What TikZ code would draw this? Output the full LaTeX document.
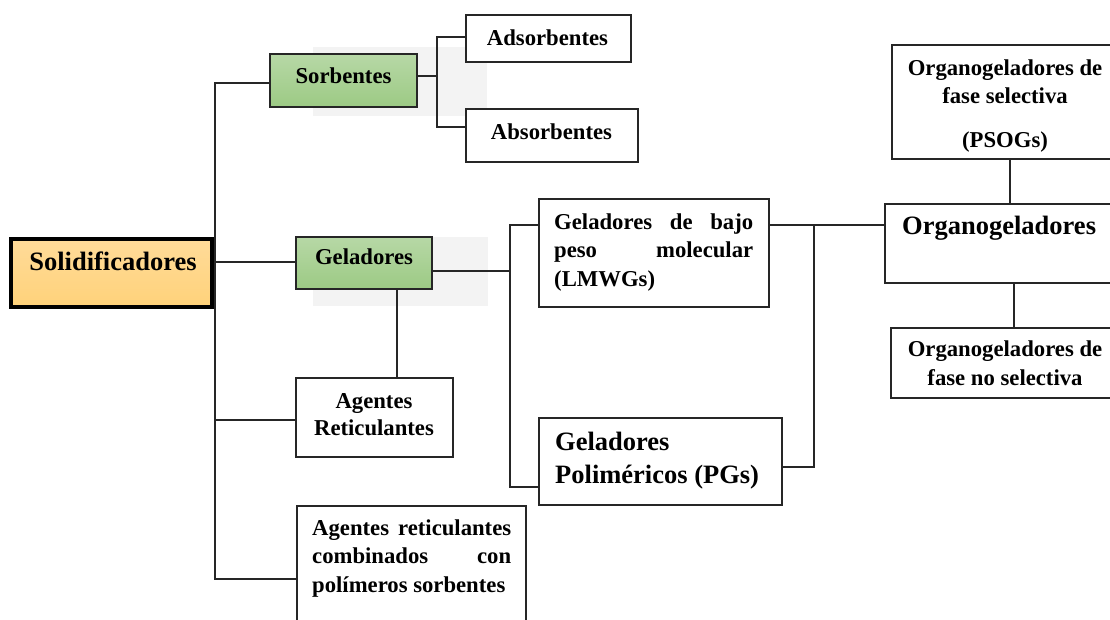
\documentclass[tikz,border=0pt]{standalone}
\usepackage{fontspec}
\setmainfont{Liberation Serif}
\usetikzlibrary{fit,calc}
\definecolor{gtop}{RGB}{183,216,166}
\definecolor{gbot}{RGB}{156,202,132}
\definecolor{otop}{RGB}{255,219,153}
\definecolor{obot}{RGB}{255,210,122}
\definecolor{ghostfill}{RGB}{243,243,243}
\tikzset{
  box/.style={draw=black!85, line width=2.4pt, fill=white, inner sep=0pt},
  greenbox/.style={box, top color=gtop, bottom color=gbot},
  rootbox/.style={draw=black, line width=4.5pt, top color=otop, bottom color=obot, inner sep=0pt},
  conn/.style={draw=black!85, line width=2.4pt},
  txt/.style={inner sep=0pt, anchor=base, font=\bfseries\fontsize{22.7pt}{28.5pt}\selectfont},
  bigtxt/.style={inner sep=0pt, anchor=base, font=\bfseries\fontsize{26.5pt}{33pt}\selectfont},
}
\begin{document}
\begin{tikzpicture}[x=1pt,y=-1pt]
\useasboundingbox (0,0) rectangle (1110,620);
\clip (0,0) rectangle (1110,620);
\fill[white] (0,0) rectangle (1110,620);
% faint background residue
\fill[ghostfill] (313,47) rectangle (487,116);
\fill[ghostfill] (313,237) rectangle (488,306);

% junction coordinates
\coordinate (busTop) at (215,83);
\coordinate (busBot) at (215,579);
\coordinate (bG) at (215,262);
\coordinate (bA) at (215,420);
\coordinate (sS) at (437,76);
\coordinate (sA) at (437,37);
\coordinate (sB) at (437,127);
\coordinate (g1) at (510,271);
\coordinate (g2) at (510,225);
\coordinate (g3) at (510,487);
\coordinate (gd) at (397,0);
\coordinate (r1) at (814,225);
\coordinate (r2) at (814,467);
\coordinate (o1) at (1010,0);
\coordinate (o2) at (1014,0);

% boxes
\node[greenbox, fit={(270,54) (417,107)}] (sorb) {};
\node[greenbox, fit={(296,237) (432,289)}] (gel) {};
\node[box, fit={(466,15) (631,62)}] (ads) {};
\node[box, fit={(466,109) (638,162)}] (abs) {};
\node[box, fit={(539,199) (769,307)}] (lmwg) {};
\node[box, fit={(892,45) (1120,159)}] (psog) {};
\node[box, fit={(885,204) (1120,283)}] (org) {};
\node[box, fit={(891,328) (1120,398)}] (nonsel) {};
\node[box, fit={(296,378) (453,457)}] (agr) {};
\node[box, fit={(539,418) (782,505)}] (pg) {};
\node[box, fit={(297,506) (526,630)}] (comb) {};

% connectors
\draw[conn] (busTop -| sorb.west) -- (busTop) -- (busBot) -- (busBot -| comb.west);
\draw[conn] (bG) -- (bG -| gel.west);
\draw[conn] (bA) -- (bA -| agr.west);
\draw[conn] (sS -| sorb.east) -- (sS);
\draw[conn] (sA -| ads.west) -- (sA) -- (sB) -- (sB -| abs.west);
\draw[conn] (g1 -| gel.east) -- (g1);
\draw[conn] (g2 -| lmwg.west) -- (g2) -- (g3) -- (g3 -| pg.west);
\draw[conn] (gel.south -| gd) -- (agr.north -| gd);
\draw[conn] (r1 -| lmwg.east) -- (r1 -| org.west);
\draw[conn] (r1) -- (r2) -- (r2 -| pg.east);
\draw[conn] (psog.south -| o1) -- (org.north -| o1);
\draw[conn] (org.south -| o2) -- (nonsel.north -| o2);

% root box drawn on top of bus
\node[rootbox, fit={(11,239) (212,307)}] (sol) {};

% texts (multi-line nodes: base anchor = last line's baseline)
\node[bigtxt] (solT) at (113,270) {Solidificadores};
\node[txt] (sorbT) at (343.5,84) {Sorbentes};
\node[txt] (gelT) at (364,265) {Geladores};
\node[txt] (adsT) at (547.5,46) {Adsorbentes};
\node[txt] (absT) at (551.5,140) {Absorbentes};
\node[txt, anchor=base west, align=left] (lmwgT) at (554,286)
  {\makebox[199pt][s]{Geladores de bajo}\\\makebox[199pt][s]{peso molecular}\\(LMWGs)};
\node[txt, align=center, font=\bfseries\fontsize{22.7pt}{28pt}\selectfont] (psogT) at (1005,148)
  {Organogeladores de\\fase selectiva\\[16pt](PSOGs)};
\node[bigtxt, anchor=base west] (orgT) at (902,235) {Organogeladores};
\node[txt, align=center, font=\bfseries\fontsize{22.7pt}{29pt}\selectfont] (nonselT) at (1005,385)
  {Organogeladores de\\fase no selectiva};
\node[txt, align=center, font=\bfseries\fontsize{22.7pt}{27pt}\selectfont] (agrT) at (374,435)
  {Agentes\\Reticulantes};
\node[bigtxt, anchor=base west, align=left] (pgT) at (555,483)
  {Geladores\\Poliméricos (PGs)};
\node[txt, anchor=base west, align=left] (combT) at (312,592)
  {\makebox[199pt][s]{Agentes reticulantes}\\\makebox[199pt][s]{combinados con}\\polímeros sorbentes};
\end{tikzpicture}
\end{document}
